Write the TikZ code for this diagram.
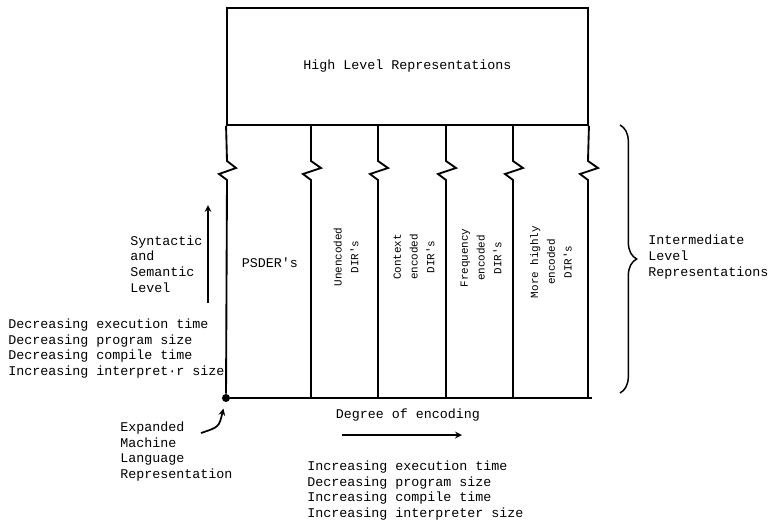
\documentclass[tikz,border=0pt]{standalone}
\usepackage{fontspec}
\setmonofont{Liberation Mono}
\usepackage{tikz}
\usetikzlibrary{arrows,decorations.pathreplacing}
\tikzstyle{plain text}=[font=\ttfamily\fontsize{10pt}{11.8pt}\selectfont, inner sep=0pt]
\tikzstyle{block text}=[plain text, align=left, anchor=west]
\tikzstyle{column text}=[font=\ttfamily\fontsize{8.2pt}{12.6pt}\selectfont, inner sep=0pt, rotate=90, align=center]
\tikzstyle{frame}=[line width=1.4pt]
\tikzstyle{pointer}=[line width=1.3pt, -stealth]
\tikzstyle{dot}=[circle, fill=black, inner sep=0pt, minimum size=6pt]

\begin{document}
\begin{tikzpicture}[x=0.75pt, y=-0.75pt]
			\useasboundingbox (0,0) rectangle (768,529);
			
			\node (high level) [draw, frame, plain text, minimum width=270.75pt, minimum height=87.75pt] at (407.5,66.5) {High Level Representations};
			\node (origin) [dot] at (226,398) {};
			
			% columns with break marks
			\draw [frame] (high level.south west) -- (227,161) -- ++(9,7) -- ++(-17,6) -- ++(8,6) -- (origin);
			\draw [frame] (311,125) -- (311,161) -- ++(10,7) -- ++(-18,6) -- ++(8,6) -- (311,398);
			\draw [frame] (378,125) -- (378,161) -- ++(10,7) -- ++(-18,6) -- ++(8,6) -- (378,398);
			\draw [frame] (446,125) -- (446,161) -- ++(10,7) -- ++(-18,6) -- ++(8,6) -- (446,398);
			\draw [frame] (513,125) -- (513,161) -- ++(10,7) -- ++(-18,6) -- ++(8,6) -- (513,398);
			\draw [frame] (high level.south east) -- (588,161) -- ++(10,7) -- ++(-18,6) -- ++(8,6) -- (588,398);
			\draw [frame] (origin) -- (592,398);
			
			\node (psder) [plain text] at (270,263) {PSDER's};
			\node (unencoded) [column text] at (346,257) {Unencoded\\DIR's};
			\node (context) [column text] at (414,257) {Context\\encoded\\DIR's};
			\node (frequency) [column text] at (481,258) {Frequency\\encoded\\DIR's};
			\node (more highly) [column text] at (551,262) {More highly\\encoded\\DIR's};
			
			% brace on the right
			\coordinate (brace top) at (620,125);
			\coordinate (brace bottom) at (620,393);
			\draw [line width=1.1pt, decorate, decoration={brace, amplitude=12.5pt}] (brace top) -- (brace bottom);
			\node (intermediate) [block text] at (648,257) {Intermediate\\Level\\Representations};
			
			% left side
			\node (semantic level) [block text] at (130,264) {Syntactic\\and\\Semantic\\Level};
			\coordinate (level low) at (208,303);
			\coordinate (level high) at (208,205);
			\draw [pointer] (level low) -- (level high);
			\node (left list) [block text] at (8,348.5) {Decreasing execution time\\Decreasing program size\\Decreasing compile time\\Increasing interpret·r size};
			
			\node (expanded) [block text] at (120,451.5) {Expanded\\Machine\\Language\\Representation};
			\coordinate (expanded tail) at (201,433);
			\draw [pointer, shorten >=5pt] (expanded tail) .. controls (219,427) .. (origin);
			
			% bottom
			\node (degree) [plain text] at (408,415) {Degree of encoding};
			\coordinate (degree start) at (342,435);
			\coordinate (degree end) at (462,435);
			\draw [pointer] (degree start) -- (degree end);
			\node (bottom list) [block text] at (307,490.5) {Increasing execution time\\Decreasing program size\\Increasing compile time\\Increasing interpreter size};
			
			\end{tikzpicture}
\end{document}
